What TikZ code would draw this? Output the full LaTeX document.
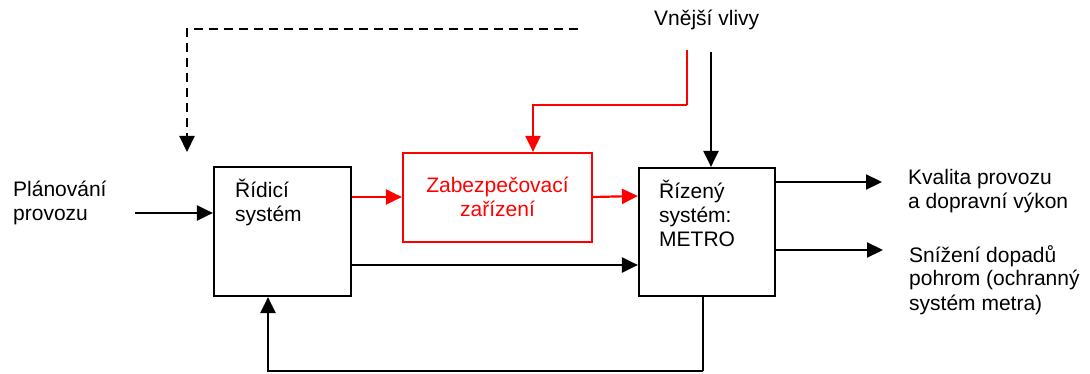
\documentclass[tikz,border=0pt]{standalone}
\usepackage{fontspec}
\setmainfont{Liberation Sans}
\usetikzlibrary{arrows.meta,calc}
\definecolor{alarm}{RGB}{255,0,0}
% multi-line labels whose baseline is the first line
\newcommand{\leftlines}[1]{\begin{tabular}[t]{@{}l@{}}#1\end{tabular}}
\newcommand{\centrelines}[1]{\begin{tabular}[t]{@{}c@{}}#1\end{tabular}}
\tikzset{
  blockbox/.style={draw=black, line width=2.2pt, inner sep=0pt, fill=white},
  redbox/.style={draw=alarm, line width=2.2pt, inner sep=0pt, fill=white},
  label/.style={anchor=base west, inner sep=0pt, font=\fontsize{21}{24}\selectfont},
  flow/.style={line width=2.2pt, -{Triangle[length=16pt,width=15pt]}},
  redflow/.style={flow, draw=alarm, -{Triangle[length=16pt,width=15pt,fill=alarm]}},
}
\begin{document}
\begin{tikzpicture}[x=1pt,y=1pt]
\useasboundingbox (0,0) rectangle (1090,-374);

% blocks
\node[blockbox, minimum width=137pt, minimum height=129pt] (ridici) at (282.5,-231.5) {};
\node[redbox, minimum width=189pt, minimum height=89pt] (zab) at (497.5,-197.5) {};
\node[blockbox, minimum width=136pt, minimum height=128pt] (rizeny) at (707,-232) {};

% texts
\node[label] (plan) at (13,-197) {\leftlines{Plánování\\provozu}};
\node[label] (ridtext) at (235,-198) {\leftlines{Řídicí\\systém}};
\node[label, anchor=base, text=alarm] (zabtext) at (497.5,-193) {\centrelines{Zabezpečovací\\zařízení}};
\node[label] (riztext) at (659,-199) {\leftlines{Řízený\\systém:\\METRO}};
\node[label] (vnejsi) at (654,-26) {Vnější vlivy};
\node[label] (kvalita) at (908,-185) {\leftlines{Kvalita provozu\\a dopravní výkon}};
\node[label] (snizeni) at (909,-262) {\leftlines{Snížení dopadů\\pohrom (ochranný\\systém metra)}};

% free ends of connectors
\coordinate (planout) at (135,-213);
\coordinate (dashstart) at (578,-29);
\coordinate (dashend) at (187,-152);
\coordinate (redstart) at (687,-50);
\coordinate (redbend) at (687,-105);
\coordinate (blackstart) at (711,-52);
\coordinate (out1) at (882,-182);
\coordinate (out2) at (883,-250);
\coordinate (fbdown) at (703,-371);

% inputs
\draw[flow] (planout) -- (ridici.west |- planout);
\draw[line width=2.2pt, dash pattern=on 9pt off 6pt, -{Triangle[length=16pt,width=15pt]}]
  (dashstart) -| (dashend);
\draw[alarm, line width=1.2pt] (redstart) -- (redbend);
\draw[redflow] (redbend) -| (zab.north -| 533,0);
\draw[flow] (blackstart) -- (rizeny.north -| blackstart);

% forward path
\draw[redflow] (ridici.east |- 0,-197) -- (zab.west |- 0,-197);
\draw[redflow] (zab.east |- 0,-197) -- (rizeny.west |- 0,-196);
\draw[flow] (ridici.east |- 0,-265) -- (rizeny.west |- 0,-265);

% outputs
\draw[flow] (rizeny.east |- out1) -- (out1);
\draw[flow] (rizeny.east |- out2) -- (out2);

% feedback loop
\draw[line width=1.6pt] (rizeny.south -| fbdown) -- (fbdown);
\draw[flow] (fbdown) -| (ridici.south -| 268,0);
\end{tikzpicture}
\end{document}
